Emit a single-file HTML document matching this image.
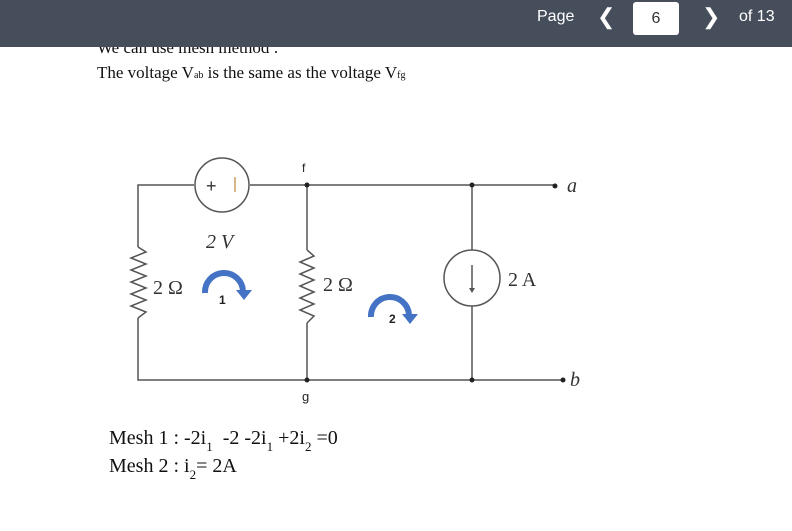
<!DOCTYPE html>
<html><head><meta charset="utf-8"><style>
body{margin:0;width:792px;height:531px;background:#fff;overflow:hidden;position:relative;font-family:"Liberation Serif",serif}
.hdr{position:absolute;left:0;top:0;width:792px;height:47px;background:#474e5b;color:#fff;font-family:"Liberation Sans",sans-serif}
.t{position:absolute;white-space:nowrap}
.s{font-size:13px;position:relative;top:7px}
</style></head><body>
<div class="t" style="left:97px;top:38px;font-size:17px;color:#111">We can use mesh method :</div>
<div class="t" style="left:97px;top:63px;font-size:17px;color:#111">The voltage V<span style="font-size:10px">ab</span> is the same as the voltage V<span style="font-size:10px">fg</span></div>
<div class="hdr">
<div class="t" style="left:537px;top:8px;font-size:16px">Page</div>
<div class="t" style="left:597px;top:4px;font-size:22px">&#10094;</div>
<div style="position:absolute;left:633px;top:2px;width:46px;height:33px;background:#fff;border-radius:3px;color:#333;text-align:center;line-height:33px;font-size:16px">6</div>
<div class="t" style="left:702px;top:4px;font-size:22px">&#10095;</div>
<div class="t" style="left:739px;top:8px;font-size:16px">of 13</div>
</div>
<svg width="792" height="531" style="position:absolute;left:0;top:0" xmlns="http://www.w3.org/2000/svg">
<g stroke="#555" stroke-width="1.5" fill="none">
<polyline points="194,185 138,185 138,247"/>
<polyline points="138,247 146,252 131,258 146,264 131,270 146,276 131,282 146,288 131,294 146,300 131,306 146,312 138,318"/>
<polyline points="138,318 138,380 563,380"/>
<line x1="250" y1="185" x2="555" y2="185"/>
<circle cx="222" cy="185" r="27"/>
<line x1="307" y1="185" x2="307" y2="250"/>
<polyline points="307,250 314,256 300,262 314,268 300,274 314,280 300,286 314,292 300,298 314,304 300,310 314,316 307,323"/>
<line x1="307" y1="323" x2="307" y2="380"/>
<line x1="472" y1="185" x2="472" y2="250"/>
<circle cx="472" cy="278" r="28"/>
<line x1="472" y1="306" x2="472" y2="380"/>
<line x1="472" y1="265" x2="472" y2="290"/>
</g>
<polygon points="469,288 475,288 472,293" fill="#555"/>
<g fill="#222"><circle cx="307" cy="185" r="2.5"/><circle cx="307" cy="380" r="2.5"/><circle cx="472" cy="185" r="2.5"/><circle cx="472" cy="380" r="2.5"/><circle cx="555" cy="186" r="2.5"/><circle cx="563" cy="380" r="2.5"/></g>
<text x="206" y="192" font-family="Liberation Sans" font-size="18" fill="#333">+</text>
<line x1="235" y1="177" x2="235" y2="192" stroke="#c8a060" stroke-width="1.5"/>
<text x="302" y="172" font-family="Liberation Sans" font-size="12" fill="#222">f</text>
<text x="302" y="401" font-family="Liberation Sans" font-size="13" fill="#222">g</text>
<g font-family="Liberation Serif" font-size="20" fill="#333">
<text x="206" y="248" font-style="italic">2 V</text>
<text x="153" y="294">2 Ω</text>
<text x="323" y="291">2 Ω</text>
<text x="508" y="286">2 A</text>
<text x="567" y="192" font-style="italic">a</text>
<text x="570" y="386" font-style="italic">b</text>
</g>
<path d="M205,293 A19,19 0 0 1 243,291" stroke="#4472c4" stroke-width="6" fill="none"/>
<polygon points="236,290 252,290 244,300" fill="#4472c4"/>
<text x="219" y="304" font-family="Liberation Sans" font-size="12" font-weight="bold" fill="#222">1</text>
<path d="M371,317 A19,19 0 0 1 409,315" stroke="#4472c4" stroke-width="6" fill="none"/>
<polygon points="402,314 418,314 410,324" fill="#4472c4"/>
<text x="389" y="323" font-family="Liberation Sans" font-size="12" font-weight="bold" fill="#222">2</text>
</svg>
<div class="t" style="left:109px;top:426px;font-size:20px;color:#111;line-height:24px">Mesh 1 : -2i<span class="s">1</span>&nbsp; -2 -2i<span class="s">1</span> +2i<span class="s">2</span> =0</div>
<div class="t" style="left:109px;top:454px;font-size:20px;color:#111;line-height:24px">Mesh 2 : i<span class="s">2</span>= 2A</div>
</body></html>
